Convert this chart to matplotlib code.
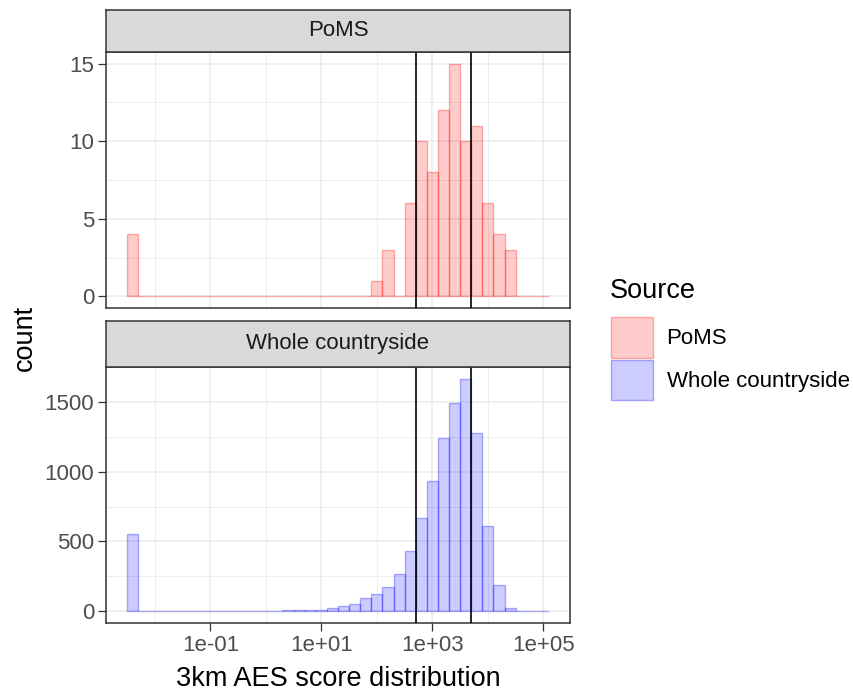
import numpy as np
import matplotlib
matplotlib.use('Agg')
import matplotlib.pyplot as plt
from matplotlib.patches import Patch
from matplotlib.ticker import FixedLocator, NullFormatter

plt.rcParams['font.family'] = ['Liberation Sans', 'DejaVu Sans']

# histogram bins in log10 space, width 0.2 decades
bin_lo = -2.5
bin_width = 0.2
n_bins = 38

poms_counts = [4, 0, 0, 0, 0, 0, 0, 0, 0, 0,
               0, 0, 0, 0, 0, 0, 0, 0, 0, 0,
               0, 0, 1, 3, 0, 6, 10, 8, 12, 15,
               10, 11, 6, 4, 3, 0, 0, 0]
whole_counts = [550, 0, 0, 0, 0, 0, 0, 0, 0, 0,
                0, 0, 0, 0, 12, 12, 12, 13, 25, 40,
                55, 96, 121, 175, 270, 429, 667, 933, 1240, 1492,
                1665, 1279, 614, 190, 26, 0, 0, 0]

vlines = [500, 5000]
panel_names = ["PoMS", "Whole countryside"]
panel_colors = ["red", "blue"]
x_breaks = [1e-1, 1e1, 1e3, 1e5]
x_labels = ["1e-01", "1e+01", "1e+03", "1e+05"]
x_minor = [1e-2, 1e0, 1e2, 1e4]
y_breaks = [[0, 5, 10, 15], [0, 500, 1000, 1500]]
y_minor = [[2.5, 7.5, 12.5], [250, 750, 1250]]

W, H = 854, 693
fig = plt.figure(figsize=(W / 100, H / 100), dpi=100)


def fbox(x0, y0, x1, y1):
    return [x0 / W, 1 - y1 / H, (x1 - x0) / W, (y1 - y0) / H]


edges = 10 ** (bin_lo + bin_width * np.arange(n_bins + 1))
xlim = (10 ** (bin_lo - 0.38), 10 ** (bin_lo + bin_width * n_bins + 0.38))

grey20 = '#333333'
panels = [(52, 308, 9.5), (367, 623, 321)]
for i, counts in enumerate([poms_counts, whole_counts]):
    top, bot, strip_top = panels[i]
    ax = fig.add_axes(fbox(106, top, 570, bot))
    col = panel_colors[i]
    ax.bar(edges[:-1], counts, width=np.diff(edges), align='edge',
           facecolor=matplotlib.colors.to_rgba(col, 0.2),
           edgecolor=matplotlib.colors.to_rgba(col, 0.3), linewidth=1.0,
           zorder=2)
    for v in vlines:
        ax.axvline(v, color='black', linewidth=1.2, zorder=3)
    ax.set_xscale('log')
    ax.set_xlim(*xlim)
    ymax = max(counts)
    ax.set_ylim(-0.05 * ymax, 1.05 * ymax)
    ax.xaxis.set_major_locator(FixedLocator(x_breaks))
    ax.xaxis.set_minor_locator(FixedLocator(x_minor))
    ax.xaxis.set_minor_formatter(NullFormatter())
    ax.yaxis.set_major_locator(FixedLocator(y_breaks[i]))
    ax.yaxis.set_minor_locator(FixedLocator(y_minor[i]))
    ax.grid(True, which='major', color='#EBEBEB', linewidth=1.1, zorder=0)
    ax.grid(True, which='minor', color='#EBEBEB', linewidth=0.6, zorder=0)
    ax.set_axisbelow(True)
    ax.tick_params(which='minor', length=0)
    ax.tick_params(which='major', length=5.5, width=0.9, color=grey20,
                   labelsize=16, labelcolor='#4D4D4D', pad=3)
    if i == 0:
        ax.tick_params(axis='x', which='major', length=0, labelbottom=False)
    else:
        ax.set_xticklabels(x_labels)
    for s in ax.spines.values():
        s.set_color(grey20)
        s.set_linewidth(1.1)

    sax = fig.add_axes(fbox(106, strip_top, 570, top))
    sax.set_facecolor('#D9D9D9')
    sax.set_xticks([])
    sax.set_yticks([])
    for s in sax.spines.values():
        s.set_color(grey20)
        s.set_linewidth(1.1)
    sax.text(0.5, 0.5, panel_names[i], ha='center', va='center',
             fontsize=16, color='#1A1A1A', transform=sax.transAxes)

fig.text(25 / W, 1 - 338 / H, "count", rotation=90, ha='center',
         va='center', fontsize=19.5, color='black')
fig.text(338 / W, 1 - 679 / H, "3km AES score distribution", ha='center',
         va='center', fontsize=19.5, color='black')

# legend: title drawn separately so the key spacing can match
fig.text(610 / W, 1 - 291 / H, "Source", ha='left', va='center',
         fontsize=19.5, color='black')
handles = [Patch(facecolor=matplotlib.colors.to_rgba(c, 0.2),
                 edgecolor=matplotlib.colors.to_rgba(c, 0.3), linewidth=1.0)
           for c in panel_colors]
fig.legend(handles, panel_names, loc='upper left',
           bbox_to_anchor=(611 / W, 1 - 317 / H), frameon=False,
           borderaxespad=0, borderpad=0,
           fontsize=16, handlelength=1.9,
           handleheight=2.45, handletextpad=0.6, labelspacing=0.08)

plt.savefig("out.png", dpi=100)
